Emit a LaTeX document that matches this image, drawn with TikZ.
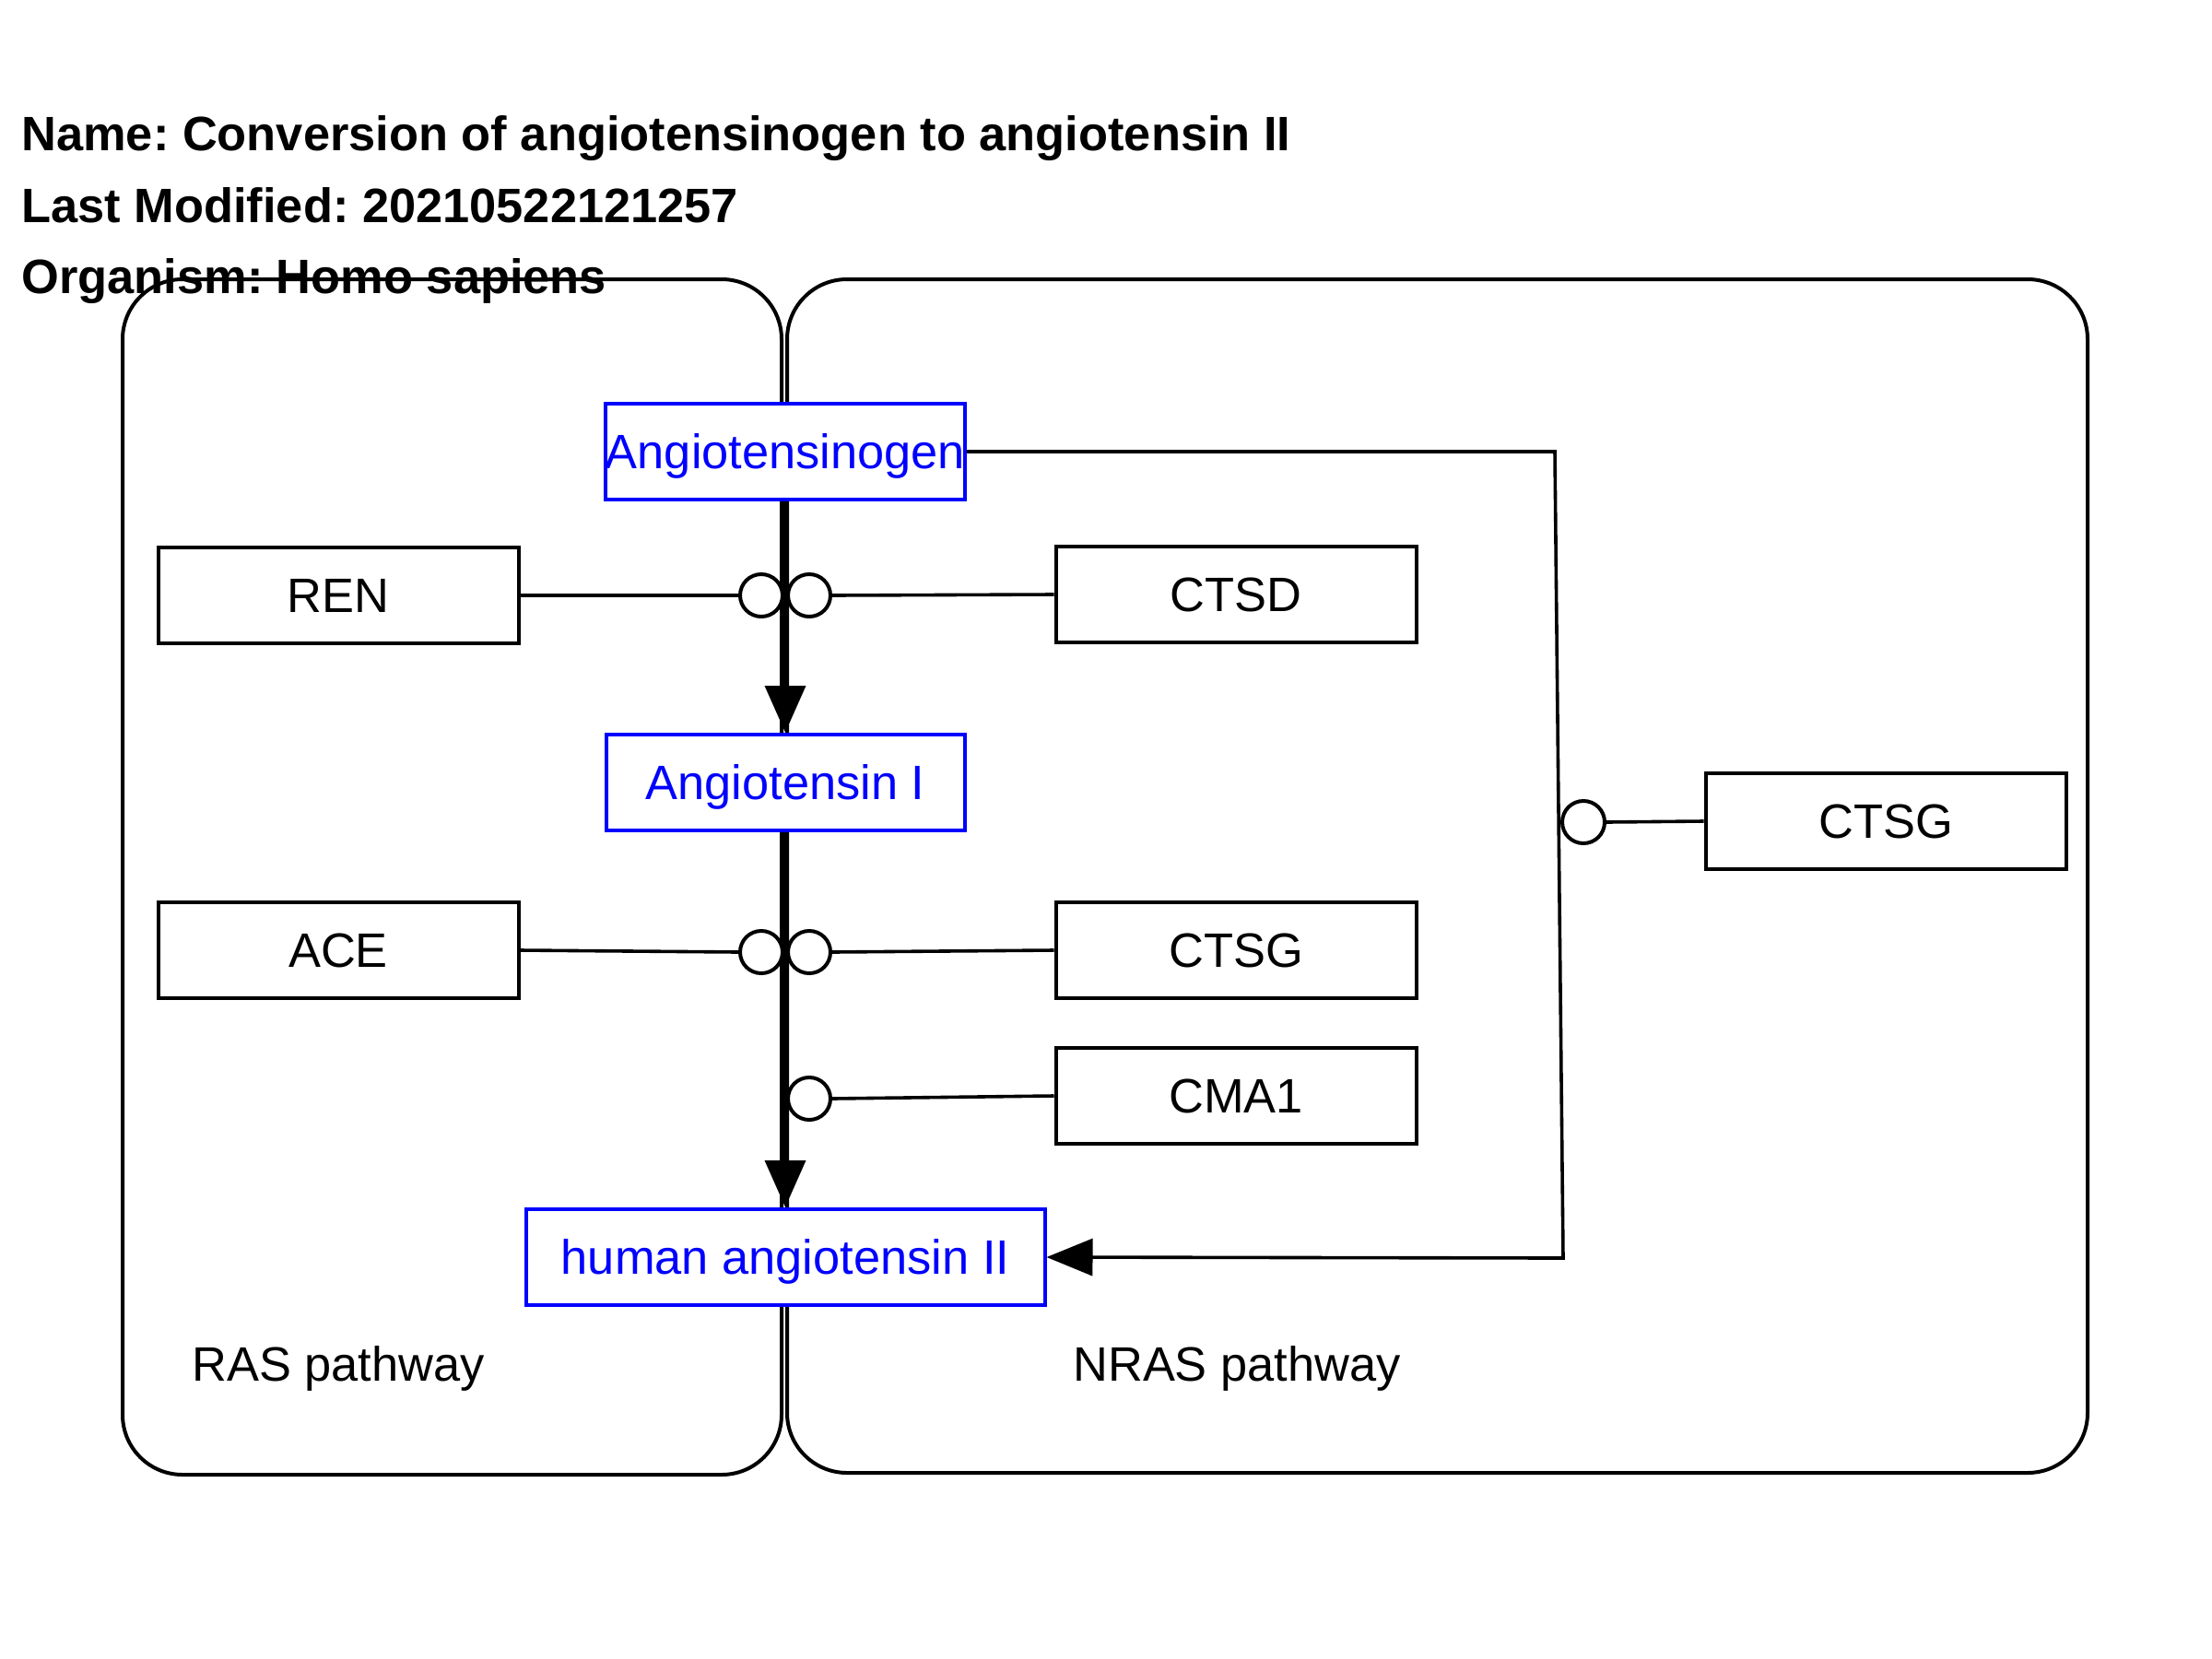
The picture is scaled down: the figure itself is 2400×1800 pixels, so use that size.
\documentclass[tikz,border=0pt]{standalone}
\usepackage{fontspec}
\setmainfont{Liberation Sans}
\usetikzlibrary{arrows.meta}
\definecolor{nodeblue}{RGB}{0,0,255}
\frenchspacing
\begin{document}
\begin{tikzpicture}[x=0.5pt,y=-0.5pt,
  txt/.style={font=\fontsize{26.2pt}{31pt}\selectfont, inner sep=0pt, text height=18.7pt, text depth=0pt},
  grp/.style={draw, line width=2pt, rounded corners=32.5pt},
  gene/.style={txt, draw, line width=2pt, fill=white, minimum width=195.5pt, minimum height=52pt},
  metab/.style={txt, draw=nodeblue, text=nodeblue, line width=2pt, fill=white, minimum height=52pt},
  cat/.style={circle, draw, line width=2pt, fill=white, minimum size=23pt, inner sep=0pt},
  title/.style={font=\fontsize{26.2pt}{31pt}\selectfont\bfseries, inner sep=0pt, anchor=base west},
  conv/.style={line width=3.5pt, -{Triangle[length=25.5pt,width=21.5pt]}},
  link/.style={line width=1.8pt},
]
\useasboundingbox (0,0) rectangle (2400,1800);
\fill[white] (0,0) rectangle (2400,1800);

% groups
\draw[grp] (133,303) rectangle (848,1600);
\draw[grp] (854,303) rectangle (2265,1598);
\node[txt] (ras) at (367,1480) {RAS pathway};
\node[txt] (nras) at (1342,1480) {NRAS pathway};

% title
\node[title] (t1) at (23,163) {Name: Conversion of angiotensinogen to angiotensin II};
\node[title] (t2) at (23,241) {Last Modified: 20210522121257};
\node[title] (t3) at (23,318) {Organism: Homo sapiens};

% metabolites
\node[metab, minimum width=194.5pt] (agt) at (852,490) {Angiotensinogen};
\node[metab, minimum width=194.5pt] (a1) at (852,849) {Angiotensin I};
\node[metab, minimum width=281.5pt] (a2) at (852,1364) {human angiotensin II};

% genes
\node[gene] (ren) at (367,646) {REN};
\node[gene] (ctsd) at (1341,645) {CTSD};
\node[gene] (ace) at (367,1031) {ACE};
\node[gene] (ctsg1) at (1341,1031) {CTSG};
\node[gene] (cma1) at (1341,1189) {CMA1};
\node[gene] (ctsg2) at (2046,891) {CTSG};

% conversions
\draw[conv] (agt.south) -- (a1.north);
\draw[conv] (a1.south) -- (a2.north);

% side conversion
\coordinate (k1) at (1687,490);
\coordinate (k2) at (1696,1365);
\draw[link, -{Triangle[length=25pt,width=20pt]}] (agt.east) -- (k1) -- (k2) -- (a2.east);

% catalysis circles
\node[cat] (c1) at (826,646) {};
\node[cat] (c2) at (878,646) {};
\node[cat] (c3) at (826,1033) {};
\node[cat] (c4) at (878,1033) {};
\node[cat] (c5) at (878,1192) {};
\node[cat] (c6) at (1718,892) {};

\draw[link] (ren.east) -- (c1.west);
\draw[link] (ctsd.west) -- (c2.east);
\draw[link] (ace.east) -- (c3.west);
\draw[link] (ctsg1.west) -- (c4.east);
\draw[link] (cma1.west) -- (c5.east);
\draw[link] (ctsg2.west) -- (c6.east);
\end{tikzpicture}
\end{document}
